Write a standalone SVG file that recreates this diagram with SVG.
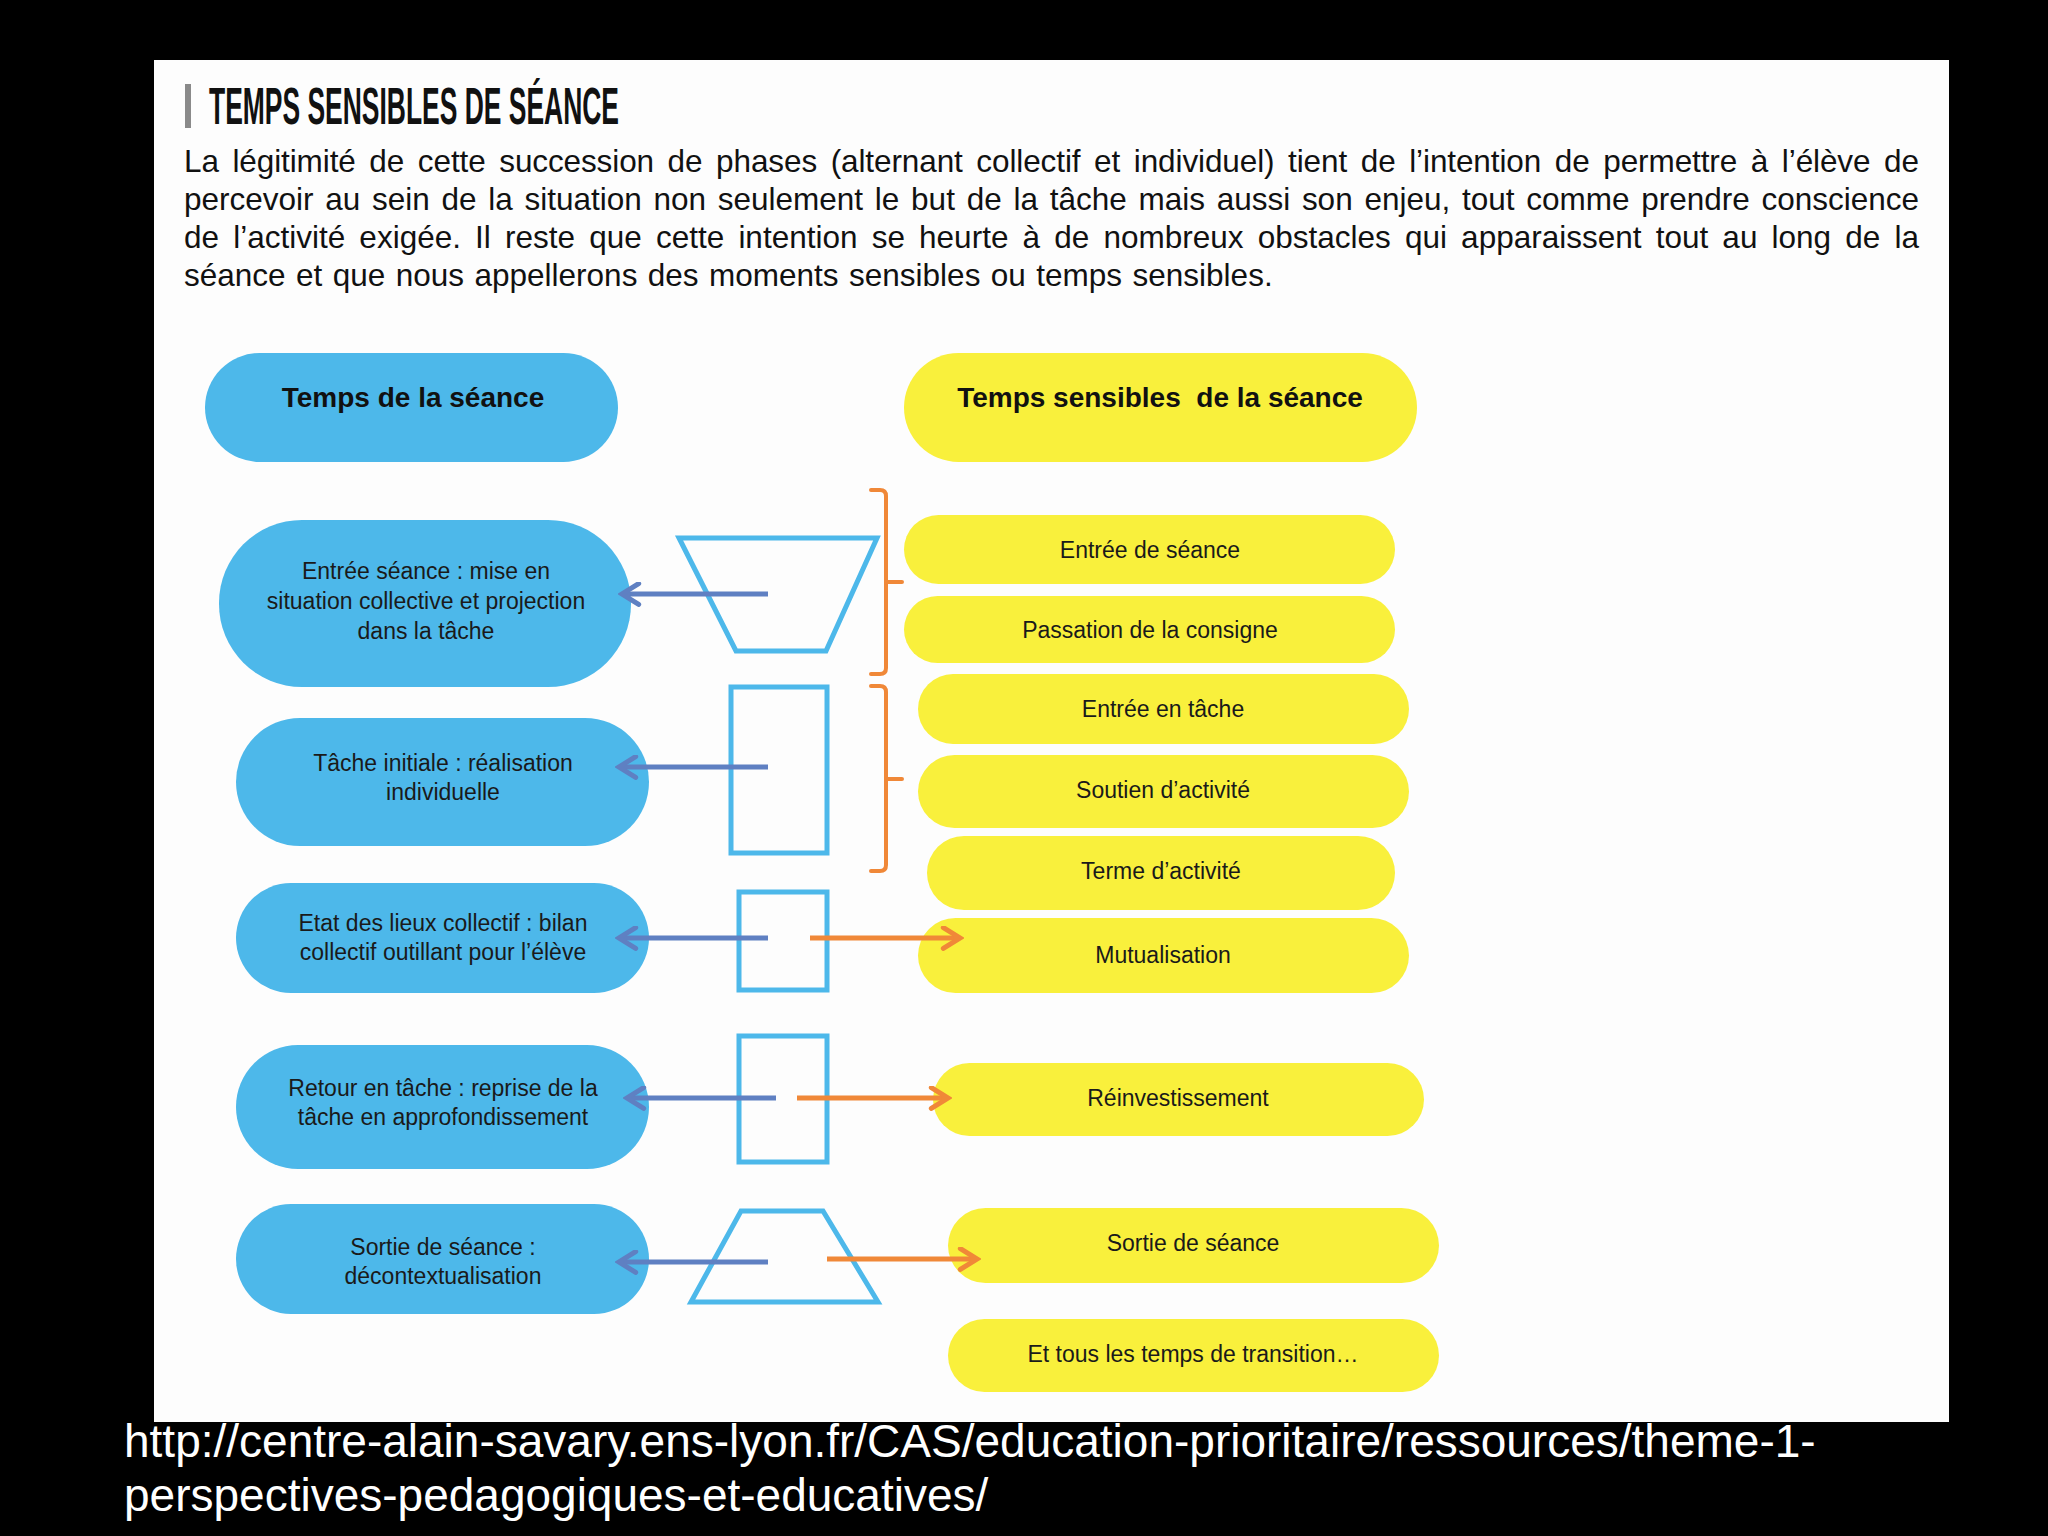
<svg xmlns="http://www.w3.org/2000/svg" width="2048" height="1536" viewBox="0 0 2048 1536">
<style>
.para{font-family:"Liberation Sans",Arial,sans-serif;font-size:31.5px;fill:#111}
.blue{fill:#4db8ea}
.yel{fill:#f9f03c}
.hdr{font-family:"Liberation Sans",Arial,sans-serif;font-size:28px;font-weight:bold;fill:#111;text-anchor:middle}
.lbl{font-family:"Liberation Sans",Arial,sans-serif;font-size:23px;fill:#1a1a1a;text-anchor:middle}
.shape{fill:none;stroke:#4db8ea;stroke-width:5}
.barr{stroke:#5f80c2;stroke-width:5;fill:none}
.oarr{stroke:#f08838;stroke-width:5;fill:none}
.brk{stroke:#f08838;stroke-width:4;fill:none;stroke-linejoin:round;stroke-linecap:round}
.url{font-family:"Liberation Sans",Arial,sans-serif;font-size:46px;fill:#fff}
</style>
<defs>
<marker id="mb" viewBox="0 0 12 12" refX="10" refY="6" markerWidth="5" markerHeight="5" orient="auto" markerUnits="strokeWidth">
<path d="M2,1 L10,6 L2,11" fill="none" stroke="#5f80c2" stroke-width="2.4" stroke-linecap="round"/>
</marker>
<marker id="mo" viewBox="0 0 12 12" refX="10" refY="6" markerWidth="5" markerHeight="5" orient="auto" markerUnits="strokeWidth">
<path d="M2,1 L10,6 L2,11" fill="none" stroke="#f08838" stroke-width="2.4" stroke-linecap="round"/>
</marker>
</defs>
<rect x="0" y="0" width="2048" height="1536" fill="#000"/>
<rect x="154" y="60" width="1795" height="1362" fill="#fdfdfd"/>

<g id="title">
<rect x="185" y="84" width="6" height="44" fill="#8a8a8a"/>
<text x="209" y="124" font-family="Liberation Sans,Arial,sans-serif" font-size="51" font-weight="bold" fill="#111" textLength="410" lengthAdjust="spacingAndGlyphs">TEMPS SENSIBLES DE SÉANCE</text>
</g>
<g id="paragraph" class="para">
<text x="184" y="172" word-spacing="5" textLength="1735" lengthAdjust="spacing">La légitimité de cette succession de phases (alternant collectif et individuel) tient de l’intention de permettre à l’élève de</text>
<text x="184" y="210" word-spacing="3" textLength="1735" lengthAdjust="spacing">percevoir au sein de la situation non seulement le but de la tâche mais aussi son enjeu, tout comme prendre conscience</text>
<text x="184" y="248" word-spacing="5.4" textLength="1735" lengthAdjust="spacing">de l’activité exigée. Il reste que cette intention se heurte à de nombreux obstacles qui apparaissent tout au long de la</text>
<text x="184" y="286" word-spacing="1.7">séance et que nous appellerons des moments sensibles ou temps sensibles.</text>
</g>

<g id="hdr-left">
<rect class="blue" x="205" y="353" width="413" height="109" rx="54.5"/>
<text class="hdr" x="413" y="407">Temps de la séance</text>
</g>
<g id="hdr-right">
<rect class="yel" x="904" y="353" width="513" height="109" rx="54.5"/>
<text class="hdr" x="1160" y="407" xml:space="preserve">Temps sensibles  de la séance</text>
</g>

<g id="b1">
<rect class="blue" x="219" y="520" width="412" height="167" rx="83"/>
<text class="lbl" x="426" y="579">Entrée séance : mise en</text>
<text class="lbl" x="426" y="609">situation collective et projection</text>
<text class="lbl" x="426" y="639">dans la tâche</text>
</g>
<g id="b2">
<rect class="blue" x="236" y="718" width="413" height="128" rx="64"/>
<text class="lbl" x="443" y="771">Tâche initiale : réalisation</text>
<text class="lbl" x="443" y="800">individuelle</text>
</g>
<g id="b3">
<rect class="blue" x="236" y="883" width="413" height="110" rx="55"/>
<text class="lbl" x="443" y="931">Etat des lieux collectif : bilan</text>
<text class="lbl" x="443" y="960">collectif outillant pour l’élève</text>
</g>
<g id="b4">
<rect class="blue" x="236" y="1045" width="413" height="124" rx="62"/>
<text class="lbl" x="443" y="1096">Retour en tâche : reprise de la</text>
<text class="lbl" x="443" y="1125">tâche en approfondissement</text>
</g>
<g id="b5">
<rect class="blue" x="236" y="1204" width="413" height="110" rx="55"/>
<text class="lbl" x="443" y="1255">Sortie de séance :</text>
<text class="lbl" x="443" y="1284">décontextualisation</text>
</g>

<g id="y1"><rect class="yel" x="904" y="515" width="491" height="69" rx="34.5"/><text class="lbl" x="1150" y="558">Entrée de séance</text></g>
<g id="y2"><rect class="yel" x="904" y="596" width="491" height="67" rx="33.5"/><text class="lbl" x="1150" y="638">Passation de la consigne</text></g>
<g id="y3"><rect class="yel" x="918" y="674" width="491" height="70" rx="35"/><text class="lbl" x="1163" y="717">Entrée en tâche</text></g>
<g id="y4"><rect class="yel" x="918" y="755" width="491" height="73" rx="36.5"/><text class="lbl" x="1163" y="798">Soutien d’activité</text></g>
<g id="y5"><rect class="yel" x="927" y="836" width="468" height="74" rx="37"/><text class="lbl" x="1161" y="879">Terme d’activité</text></g>
<g id="y6"><rect class="yel" x="918" y="918" width="491" height="75" rx="37.5"/><text class="lbl" x="1163" y="963">Mutualisation</text></g>
<g id="y7"><rect class="yel" x="933" y="1063" width="491" height="73" rx="36.5"/><text class="lbl" x="1178" y="1106">Réinvestissement</text></g>
<g id="y8"><rect class="yel" x="948" y="1208" width="491" height="75" rx="37.5"/><text class="lbl" x="1193" y="1251">Sortie de séance</text></g>
<g id="y9"><rect class="yel" x="948" y="1319" width="491" height="73" rx="36.5"/><text class="lbl" x="1193" y="1362">Et tous les temps de transition…</text></g>

<g id="s1"><polygon class="shape" points="679,538 877,538 826,651 736,651"/></g>
<g id="s2"><rect class="shape" x="731" y="687" width="96" height="166"/></g>
<g id="s3"><rect class="shape" x="739" y="892" width="88" height="98"/></g>
<g id="s4"><rect class="shape" x="739" y="1036" width="88" height="126"/></g>
<g id="s5"><polygon class="shape" points="741,1211 823,1211 878,1302 691,1302"/></g>

<g id="brackets">
<path class="brk" d="M871,490 L880,490 Q886,490 886,496 L886,668 Q886,674 880,674 L871,674 M886,582 L902,582"/>
<path class="brk" d="M871,686 L880,686 Q886,686 886,692 L886,865 Q886,871 880,871 L871,871 M886,779 L902,779"/>
</g>

<g id="connectors">
<line class="barr" x1="768" y1="594" x2="622" y2="594" marker-end="url(#mb)"/>
<line class="barr" x1="768" y1="767" x2="619" y2="767" marker-end="url(#mb)"/>
<line class="barr" x1="768" y1="938" x2="619" y2="938" marker-end="url(#mb)"/>
<line class="barr" x1="776" y1="1098" x2="627" y2="1098" marker-end="url(#mb)"/>
<line class="barr" x1="768" y1="1262" x2="619" y2="1262" marker-end="url(#mb)"/>
<line class="oarr" x1="810" y1="938" x2="960" y2="938" marker-end="url(#mo)"/>
<line class="oarr" x1="797" y1="1098" x2="948" y2="1098" marker-end="url(#mo)"/>
<line class="oarr" x1="827" y1="1259" x2="977" y2="1259" marker-end="url(#mo)"/>
</g>

<g id="source">
<text class="url" x="124" y="1457">http://centre-alain-savary.ens-lyon.fr/CAS/education-prioritaire/ressources/theme-1-</text>
<text class="url" x="124" y="1511">perspectives-pedagogiques-et-educatives/</text>
</g>
</svg>
